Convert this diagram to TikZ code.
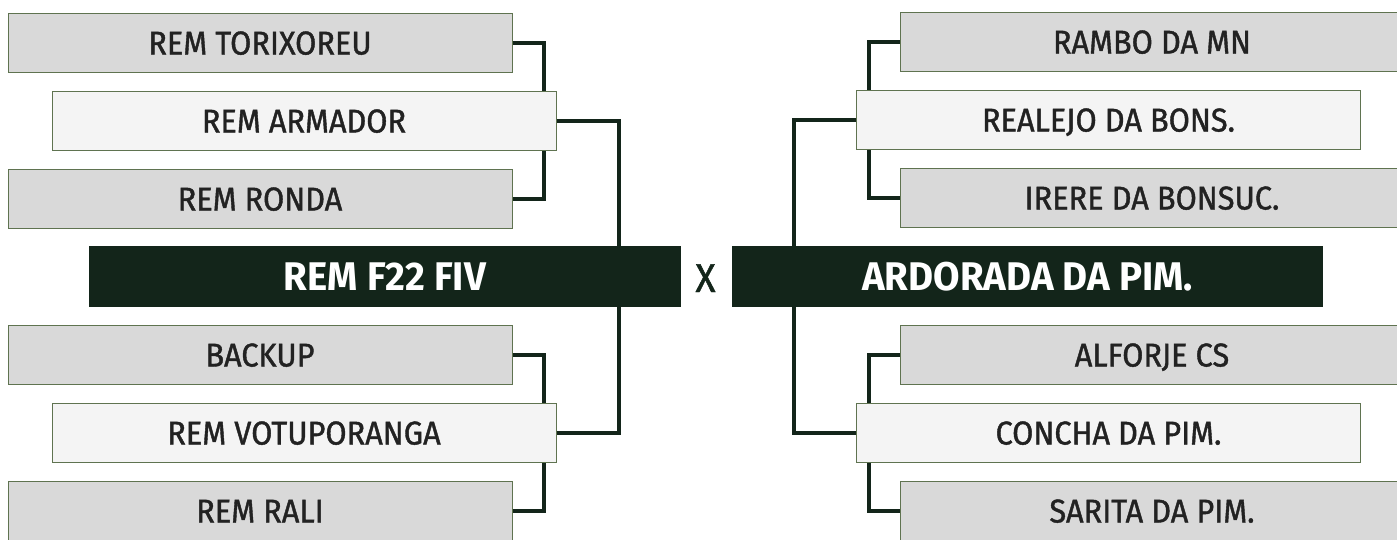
\documentclass[tikz,border=0pt]{standalone}
\usepackage{fontspec}
\setmainfont{Fira Sans}
\newfontfamily\teamfont{Fira Sans}[FakeStretch=0.93, FakeBold=1.2]
\newfontfamily\finalfont{Fira Sans}[FakeStretch=0.96]
\usepackage{xcolor}
\definecolor{darkgreen}{HTML}{13251A}
\definecolor{boxgray}{HTML}{D9D9D9}
\definecolor{boxlight}{HTML}{F4F4F4}
\definecolor{boxline}{HTML}{5F7350}
\definecolor{txtdark}{HTML}{222222}
\usepackage{tikz}
\usetikzlibrary{calc}

\tikzset{
  team/.style={draw=boxline, line width=1pt, fill=boxgray, minimum width=504pt, minimum height=59pt,
    inner sep=0, text=txtdark, text height=23pt, text depth=0pt, font=\teamfont\fontsize{33}{36}\selectfont},
  winner/.style={team, fill=boxlight},
  final/.style={fill=darkgreen, minimum height=61pt, inner sep=0, text=white, text height=28pt,
    text depth=0pt, font=\finalfont\fontsize{40}{44}\selectfont\bfseries},
  link/.style={draw=darkgreen, line width=4pt}
}

\begin{document}
\begin{tikzpicture}[x=1pt, y=-1pt]
\useasboundingbox (0,0) rectangle (1397,539);

\node[team] (tor) at (260,43) {REM TORIXOREU};
\node[winner] (arm) at (304,121) {REM ARMADOR};
\node[team] (ron) at (260,199) {REM RONDA};
\node[final, minimum width=592pt] (f22) at (385,276.5) {REM F22 FIV};
\node[team] (bac) at (260,355) {BACKUP};
\node[winner] (vot) at (304,433) {REM VOTUPORANGA};
\node[team] (ral) at (260,511) {REM RALI};

\node[team] (ram) at (1152,42) {RAMBO DA MN};
\node[winner] (rea) at (1108.5,120) {REALEJO DA BONS.};
\node[team] (ire) at (1152,198) {IRERE DA BONSUC.};
\node[final, minimum width=591pt] (ard) at (1027.5,276.5) {ARDORADA DA PIM.};
\node[team] (alf) at (1152,355) {ALFORJE CS};
\node[winner] (con) at (1108.5,433) {CONCHA DA PIM.};
\node[team] (sar) at (1152,511) {SARITA DA PIM.};

\node[text=darkgreen, inner sep=0, text height=28pt, text depth=0pt, font=\teamfont\fontsize{40}{44}\selectfont] (vs) at (705.5,278) {X};

\draw[link] (tor.east) -| ([xshift=-13pt]arm.north east);
\draw[link] ([xshift=-13pt]arm.south east) |- (ron.east);
\draw[link] (arm.east) -| ([xshift=-62pt]f22.north east);
\draw[link] (bac.east) -| ([xshift=-13pt]vot.north east);
\draw[link] ([xshift=-13pt]vot.south east) |- (ral.east);
\draw[link] (vot.east) -| ([xshift=-62pt]f22.south east);

\draw[link] (ram.west) -| ([xshift=13pt]rea.north west);
\draw[link] ([xshift=13pt]rea.south west) |- (ire.west);
\draw[link] (rea.west) -| ([xshift=62pt]ard.north west);
\draw[link] (alf.west) -| ([xshift=13pt]con.north west);
\draw[link] ([xshift=13pt]con.south west) |- (sar.west);
\draw[link] (con.west) -| ([xshift=62pt]ard.south west);
\end{tikzpicture}
\end{document}
